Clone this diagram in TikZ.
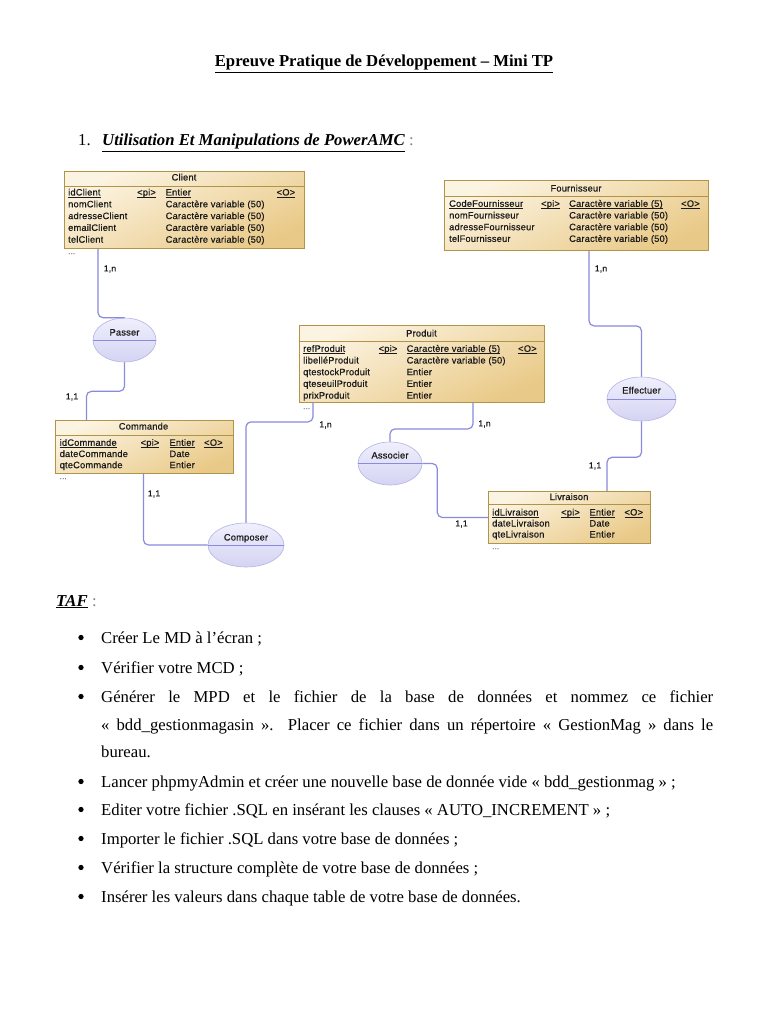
\documentclass[tikz,border=0pt]{standalone}
\usepackage{fontspec}
\setmainfont{Liberation Serif}
\newfontfamily\tabfont[LetterSpace=2,FakeBold=0.6]{Liberation Sans}
\usetikzlibrary{shapes.geometric,calc}
\definecolor{tblborder}{HTML}{B09448}
\definecolor{tbltop}{HTML}{FCF4E2}
\definecolor{tblbot}{HTML}{E9C987}
\definecolor{connc}{HTML}{8A8ADE}
\definecolor{asstop}{HTML}{EFEFFD}
\definecolor{assbot}{HTML}{D4D4F3}
\definecolor{assborder}{HTML}{B4B4E6}
\definecolor{tabtext}{HTML}{1A1A1A}
\newcommand{\colA}{0}\newcommand{\colB}{0}\newcommand{\colC}{0}\newcommand{\colD}{0}
\newcommand{\kul}[1]{\setbox0\hbox{#1}\rlap{\rule[-2.2pt]{\wd0}{0.7pt}}\box0}
\newcommand{\erow}[4]{\node[tt] (#1n) at (\colA,#2) {#3}; \node[tt] (#1t) at (\colC,#2) {#4};}
\newcommand{\ekey}[6]{\node[tt] (#1n) at (\colA,#2) {\kul{#3}};
  \node[tt] (#1p) at (\colB,#2) {\kul{#4}};
  \node[tt] (#1t) at (\colC,#2) {\kul{#5}};
  \node[tt] (#1o) at (\colD,#2) {\kul{#6}};}
\begin{document}
\begin{tikzpicture}[x=1pt,y=-1pt,
  tbl/.style={draw=tblborder, line width=0.9pt, top color=tbltop, bottom color=tblbot, shading angle=25, anchor=north west, inner sep=0pt},
  tblsep/.style={draw=tblborder, line width=0.9pt},
  tt/.style={font=\tabfont\fontsize{9.3}{11}\selectfont, text=tabtext, anchor=base west, inner sep=0pt},
  hdr/.style={font=\tabfont\fontsize{9.3}{11}\selectfont, text=tabtext, anchor=base, inner sep=0pt},
  dots/.style={font=\tabfont\fontsize{8}{10}\selectfont, text=gray, anchor=base west, inner sep=0pt},
  assoc/.style={ellipse, draw=assborder, line width=0.6pt, top color=asstop, bottom color=assbot, inner sep=0pt},
  assline/.style={draw=connc, line width=1pt},
  alab/.style={font=\tabfont\fontsize{9.3}{11}\selectfont, text=tabtext, anchor=base, inner sep=0pt},
  connline/.style={draw=connc, line width=1.2pt, rounded corners=5pt},
  card/.style={font=\tabfont\fontsize{8.6}{10}\selectfont, text=tabtext, inner sep=0pt},
  body/.style={anchor=base west, inner sep=0pt, font=\fontsize{16.7}{20}\selectfont},
  bul/.style={circle, fill=black, inner sep=0pt, minimum size=5.3pt}]
\fill[white] (0,0) rectangle (768,1024);
\useasboundingbox (0,0) rectangle (768,1024);

% ---------- headings ----------
\node[body, anchor=base] (title) at (384,67) {\textbf{\underline{Epreuve Pratique de Développement – Mini TP}}};
\node[body] (h1num) at (78,146) {1.};
\node[body] (h1) at (102,146) {\textbf{\textit{\underline{Utilisation Et Manipulations de PowerAMC}}}};
\node[body, text=gray] (h1c) at (409,146) {:};

% ---------- Client ----------
\node[tbl, minimum width=240pt, minimum height=77pt] (client) at (64,171) {};
\draw[tblsep] ([yshift=-15pt]client.north west) -- ([yshift=-15pt]client.north east);
\node[hdr] (clienth) at (184,180.5) {Client};
\renewcommand{\colA}{68}\renewcommand{\colB}{137}\renewcommand{\colC}{165.5}\renewcommand{\colD}{276.5}
\ekey{c1}{195.5}{idClient}{<pi>}{Entier}{<O>}
\erow{c2}{207.3}{nomClient}{Caractère variable (50)}
\erow{c3}{219.1}{adresseClient}{Caractère variable (50)}
\erow{c4}{230.9}{emailClient}{Caractère variable (50)}
\erow{c5}{242.7}{telClient}{Caractère variable (50)}
\node[dots] (cdots) at (68,254) {...};

% ---------- Fournisseur ----------
\node[tbl, minimum width=264pt, minimum height=70pt] (fourn) at (444,180) {};
\draw[tblsep] ([yshift=-16pt]fourn.north west) -- ([yshift=-16pt]fourn.north east);
\node[hdr] (fournh) at (576,191.5) {Fournisseur};
\renewcommand{\colA}{449}\renewcommand{\colB}{541}\renewcommand{\colC}{569}\renewcommand{\colD}{681}
\ekey{f1}{206.8}{CodeFournisseur}{<pi>}{Caractère variable (5)}{<O>}
\erow{f2}{218.5}{nomFournisseur}{Caractère variable (50)}
\erow{f3}{230.2}{adresseFournisseur}{Caractère variable (50)}
\erow{f4}{241.9}{telFournisseur}{Caractère variable (50)}

% ---------- Produit ----------
\node[tbl, minimum width=245pt, minimum height=77pt] (produit) at (299,325) {};
\draw[tblsep] ([yshift=-16pt]produit.north west) -- ([yshift=-16pt]produit.north east);
\node[hdr] (produith) at (421.5,336.5) {Produit};
\renewcommand{\colA}{303}\renewcommand{\colB}{378.5}\renewcommand{\colC}{406.5}\renewcommand{\colD}{518}
\ekey{p1}{351.8}{refProduit}{<pi>}{Caractère variable (5)}{<O>}
\erow{p2}{363.5}{libelléProduit}{Caractère variable (50)}
\erow{p3}{375.2}{qtestockProduit}{Entier}
\erow{p4}{386.9}{qteseuilProduit}{Entier}
\erow{p5}{398.6}{prixProduit}{Entier}
\node[dots] (pdots) at (303,409) {...};

% ---------- Commande ----------
\node[tbl, minimum width=178pt, minimum height=53pt] (commande) at (54.5,420) {};
\draw[tblsep] ([yshift=-15pt]commande.north west) -- ([yshift=-15pt]commande.north east);
\node[hdr] (commandeh) at (143.5,429.5) {Commande};
\renewcommand{\colA}{59.5}\renewcommand{\colB}{140.5}\renewcommand{\colC}{169.3}\renewcommand{\colD}{204}
\ekey{m1}{445.8}{idCommande}{<pi>}{Entier}{<O>}
\erow{m2}{457}{dateCommande}{Date}
\erow{m3}{468.2}{qteCommande}{Entier}
\node[dots] (mdots) at (59.5,479) {...};

% ---------- Livraison ----------
\node[tbl, minimum width=162pt, minimum height=52pt] (livraison) at (488,491) {};
\draw[tblsep] ([yshift=-13pt]livraison.north west) -- ([yshift=-13pt]livraison.north east);
\node[hdr] (livraisonh) at (569,500) {Livraison};
\renewcommand{\colA}{492}\renewcommand{\colB}{561}\renewcommand{\colC}{589.3}\renewcommand{\colD}{624.3}
\ekey{l1}{515.5}{idLivraison}{<pi>}{Entier}{<O>}
\erow{l2}{526.5}{dateLivraison}{Date}
\erow{l3}{537.5}{qteLivraison}{Entier}
\node[dots] (ldots) at (492,549) {...};

% ---------- associations ----------
\node[assoc, minimum width=63pt, minimum height=44pt] (passer) at (124.5,340) {};
\draw[assline] (passer.west) -- (passer.east);
\node[alab] (passerl) at (124.5,335.5) {Passer};

\node[assoc, minimum width=69pt, minimum height=44pt] (effectuer) at (641.5,399) {};
\draw[assline] (effectuer.west) -- (effectuer.east);
\node[alab] (effectuerl) at (641.5,393.5) {Effectuer};

\node[assoc, minimum width=64pt, minimum height=43pt] (associer) at (390,463.5) {};
\draw[assline] (associer.west) -- (associer.east);
\node[alab] (associerl) at (390,458.5) {Associer};

\node[assoc, minimum width=76pt, minimum height=44pt] (composer) at (246,545) {};
\draw[assline] (composer.west) -- (composer.east);
\node[alab] (composerl) at (246,540.5) {Composer};

% ---------- connectors ----------
\draw[connline] ([xshift=34pt]client.south west) |- (passer.north);
\draw[connline] (passer.south) -- ++(0,29) -| ([xshift=32pt]commande.north west);
\draw[connline] ([xshift=145pt]fourn.south west) -- ++(0,75) -| (effectuer.north);
\draw[connline] (effectuer.south) -- ++(0,36) -| ([xshift=119pt]livraison.north west);
\draw[connline] ([xshift=14pt]produit.south west) -- ++(0,19) -| (composer.north);
\draw[connline] ([xshift=89pt]commande.south west) |- (composer.west);
\draw[connline] ([xshift=174pt]produit.south west) -- ++(0,26) -| (associer.north);
\draw[connline] (associer.east) -- ++(15,0) |- (livraison.west);

% ---------- cardinalities ----------
\node[card] (k1) at (110,269) {1,n};
\node[card] (k2) at (72,397) {1,1};
\node[card] (k3) at (601,269) {1,n};
\node[card] (k4) at (595,466) {1,1};
\node[card] (k5) at (325.5,425) {1,n};
\node[card] (k6) at (154,494) {1,1};
\node[card] (k7) at (484.5,424) {1,n};
\node[card] (k8) at (461.5,524) {1,1};

% ---------- TAF ----------
\node[body] (taf) at (56,606) {\textbf{\textit{\underline{TAF}}}};
\node[body, text=gray] (tafc) at (92,606) {:};
\node[bul] (d1) at (81,637.5) {};
\node[body] (t1) at (101,643) {Créer Le MD à l’écran ;};
\node[bul] (d2) at (81,667.5) {};
\node[body] (t2) at (101,673) {Vérifier votre MCD ;};
\node[bul] (d3) at (81,696.5) {};
\node[body] (t3a) at (101,702) {\makebox[612pt][s]{Générer le MPD et le fichier de la base de données et nommez ce fichier}};
\node[body] (t3b) at (101,730) {\makebox[612pt][s]{« bdd\_gestionmagasin ». Placer ce fichier dans un répertoire « GestionMag » dans le}};
\node[body] (t3c) at (101,757) {bureau.};
\node[bul] (d4) at (81,781.5) {};
\node[body] (t4) at (101,787) {Lancer phpmyAdmin et créer une nouvelle base de donnée vide « bdd\_gestionmag » ;};
\node[bul] (d5) at (81,809.5) {};
\node[body] (t5) at (101,815) {Editer votre fichier .SQL en insérant les clauses « AUTO\_INCREMENT » ;};
\node[bul] (d6) at (81,838.5) {};
\node[body] (t6) at (101,844) {Importer le fichier .SQL dans votre base de données ;};
\node[bul] (d7) at (81,867.5) {};
\node[body] (t7) at (101,873) {Vérifier la structure complète de votre base de données ;};
\node[bul] (d8) at (81,896.5) {};
\node[body] (t8) at (101,902) {Insérer les valeurs dans chaque table de votre base de données.};
\end{tikzpicture}
\end{document}
